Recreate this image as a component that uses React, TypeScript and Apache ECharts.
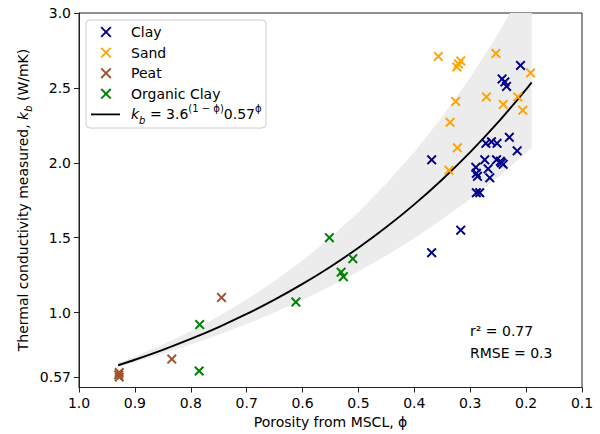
import React, { useEffect, useRef } from "react";
import * as echarts from "echarts";

// Fit curve k_b = 3.6^(1-phi) * 0.57^phi and its shaded envelope, read at these porosities
const porosityGrid = [0.93, 0.9, 0.85, 0.8, 0.75, 0.7, 0.65, 0.6, 0.55, 0.5, 0.45, 0.4, 0.35, 0.3, 0.25, 0.2, 0.19];
const fitK = [0.6485, 0.6853, 0.7515, 0.824, 0.9036, 0.9909, 1.0865, 1.1914, 1.3064, 1.4325, 1.5708, 1.7225, 1.8887, 2.0711, 2.2711, 2.4902, 2.5365];
const bandLowerK = [0.638, 0.6695, 0.7257, 0.7865, 0.8524, 0.9238, 1.0012, 1.0851, 1.176, 1.2745, 1.3813, 1.4971, 1.6225, 1.7587, 1.906, 2.0656, 2.0992];
const bandUpperK = [0.6626, 0.7068, 0.787, 0.8763, 0.9759, 1.0869, 1.2104, 1.3478, 1.5008, 1.6712, 1.861, 2.0724, 2.3077, 2.5699, 2.8616, 3.1866, 3.2559];

// Measured points [porosity, k_b]
const clayPoints = [
  [0.21, 2.65], [0.243, 2.56], [0.238, 2.54], [0.235, 2.51], [0.23, 2.17], [0.216, 2.08],
  [0.272, 2.13], [0.262, 2.14], [0.252, 2.13], [0.274, 2.02], [0.253, 2.02], [0.246, 2.01],
  [0.241, 1.99], [0.244, 2.0], [0.29, 1.97], [0.268, 1.96], [0.289, 1.93], [0.287, 1.91],
  [0.265, 1.9], [0.289, 1.8], [0.283, 1.8], [0.317, 1.55], [0.369, 2.02], [0.369, 1.4],
];
const sandPoints = [
  [0.357, 2.71], [0.317, 2.68], [0.321, 2.66], [0.324, 2.64], [0.254, 2.73], [0.326, 2.41],
  [0.271, 2.44], [0.336, 2.27], [0.323, 2.1], [0.338, 1.95], [0.192, 2.6], [0.241, 2.39],
  [0.215, 2.44], [0.206, 2.35],
];
const peatPoints = [[0.928, 0.6], [0.928, 0.57], [0.929, 0.585], [0.834, 0.69], [0.745, 1.1]];
const organicClayPoints = [
  [0.784, 0.92], [0.785, 0.61], [0.612, 1.07], [0.552, 1.5], [0.531, 1.27], [0.527, 1.24], [0.51, 1.36],
];

const yTickValues = [0.57, 1.0, 1.5, 2.0, 2.5, 3.0];
const legendNames = ["Clay", "Sand", "Peat", "Organic Clay"];
const statsLines = ["r² = 0.77", "RMSE = 0.3"];

const COLORS = ["#00008b", "#ffa500", "#a0522d", "#008000"];
const FONT = "DejaVu Sans";
const X_SYMBOL =
  "path://M0,1.4L1.4,0L5,3.6L8.6,0L10,1.4L6.4,5L10,8.6L8.6,10L5,6.4L1.4,10L0,8.6L3.6,5Z";

export default function App() {
  const ref = useRef<HTMLDivElement>(null);

  useEffect(() => {
    if (!ref.current) return;
    const chart = echarts.init(ref.current, null, { renderer: "svg" });

    const pairs = (ys: number[]) => porosityGrid.map((p, i) => [p, ys[i]]);
    const groups = [clayPoints, sandPoints, peatPoints, organicClayPoints];

    const legendTop = 32;
    const legendStep = 20.6;
    const legendGraphics: any[] = [
      {
        type: "rect",
        shape: { x: 86, y: 20, width: 180, height: 108, r: 4 },
        style: { fill: "rgba(255,255,255,0.85)", stroke: "#cccccc", lineWidth: 1 },
        z: 100,
      },
    ];
    legendNames.forEach((name, i) => {
      const cy = legendTop + i * legendStep;
      const cx = 106;
      const h = 4.8;
      legendGraphics.push(
        { type: "line", shape: { x1: cx - h, y1: cy - h, x2: cx + h, y2: cy + h }, style: { stroke: COLORS[i], lineWidth: 1.9 }, z: 101 },
        { type: "line", shape: { x1: cx - h, y1: cy + h, x2: cx + h, y2: cy - h }, style: { stroke: COLORS[i], lineWidth: 1.9 }, z: 101 },
        {
          type: "text",
          x: 131,
          y: cy,
          style: { text: name, fontFamily: FONT, fontSize: 14, fill: "#000", align: "left", verticalAlign: "middle" },
          z: 101,
        }
      );
    });
    const eqY = legendTop + 4 * legendStep;
    legendGraphics.push(
      { type: "line", shape: { x1: 91, y1: eqY, x2: 120, y2: eqY }, style: { stroke: "#000", lineWidth: 1.8 }, z: 101 },
      {
        type: "text",
        x: 131,
        y: eqY,
        style: {
          text: "{i|k}{sub|b}{n| = 3.6}{sup|(1 − ϕ)}{n|0.57}{sup|ϕ}",
          align: "left",
          verticalAlign: "middle",
          fill: "#000",
          fontFamily: FONT,
          fontSize: 14,
          rich: {
            n: { fontFamily: FONT, fontSize: 14, lineHeight: 22, verticalAlign: "middle" },
            i: { fontFamily: FONT, fontSize: 14, fontStyle: "italic", lineHeight: 22, verticalAlign: "middle" },
            sub: { fontFamily: FONT, fontSize: 10, fontStyle: "italic", lineHeight: 12, verticalAlign: "bottom" },
            sup: { fontFamily: FONT, fontSize: 10, lineHeight: 12, verticalAlign: "top" },
          },
        },
        z: 101,
      }
    );

    const option: any = {
      animation: false,
      backgroundColor: "#ffffff",
      textStyle: { fontFamily: FONT },
      grid: { left: 79, right: 18, top: 13, bottom: 46.5, show: true, borderColor: "#222", borderWidth: 1, backgroundColor: "transparent" },
      xAxis: {
        type: "value",
        inverse: true,
        min: 0.1,
        max: 1.0,
        interval: 0.1,
        name: "Porosity from MSCL, ϕ",
        nameLocation: "middle",
        nameGap: 27,
        nameTextStyle: { fontFamily: FONT, fontSize: 14, color: "#000" },
        axisLine: { show: true, lineStyle: { color: "#222", width: 1 } },
        axisTick: { show: true, length: 5, lineStyle: { color: "#222" } },
        axisLabel: { fontFamily: FONT, fontSize: 14, color: "#000", margin: 8, formatter: (v: number) => v.toFixed(1) },
        splitLine: { show: false },
      },
      yAxis: {
        type: "value",
        min: 0.5,
        max: 3.0,
        axisLine: { show: true, lineStyle: { color: "#222", width: 1 } },
        axisTick: { show: true, length: 5, lineStyle: { color: "#222" }, customValues: yTickValues },
        axisLabel: {
          fontFamily: FONT,
          fontSize: 14,
          color: "#000",
          margin: 8,
          customValues: yTickValues,
          formatter: (v: number) => (Math.abs(v - 0.57) < 1e-6 ? "0.57" : v.toFixed(1)),
        },
        splitLine: { show: false },
      },
      series: [
        {
          name: "band",
          type: "custom",
          coordinateSystem: "cartesian2d",
          clip: true,
          silent: true,
          data: [[porosityGrid[0], fitK[0]]],
          renderItem: (_params: any, api: any) => {
            const upper = porosityGrid.map((p, i) => api.coord([p, bandUpperK[i]]));
            const lower = porosityGrid.map((p, i) => api.coord([p, bandLowerK[i]])).reverse();
            return {
              type: "polygon",
              shape: { points: upper.concat(lower) },
              style: { fill: "#ececec", stroke: "none" },
            };
          },
          z: 1,
        },
        {
          name: "fit",
          type: "line",
          data: pairs(fitK),
          symbol: "none",
          smooth: 0.3,
          lineStyle: { color: "#000", width: 1.9 },
          z: 3,
        },
        ...groups.map((pts, i) => ({
          name: legendNames[i],
          type: "scatter",
          data: pts,
          symbol: X_SYMBOL,
          symbolSize: 10,
          itemStyle: { color: COLORS[i], opacity: 1 },
          z: 4,
        })),
      ],
      graphic: [
        {
          type: "text",
          x: 23,
          y: 200,
          rotation: Math.PI / 2,
          style: {
            text: "{n|Thermal conductivity measured, }{i|k}{sub|b}{n| (W/mK)}",
            align: "center",
            verticalAlign: "middle",
            fill: "#000",
            fontFamily: FONT,
            fontSize: 14,
            rich: {
              n: { fontFamily: FONT, fontSize: 14, lineHeight: 20, verticalAlign: "middle" },
              i: { fontFamily: FONT, fontSize: 14, fontStyle: "italic", lineHeight: 20, verticalAlign: "middle" },
              sub: { fontFamily: FONT, fontSize: 10, fontStyle: "italic", lineHeight: 12, verticalAlign: "bottom" },
            },
          },
        },
        ...statsLines.map((t, i) => ({
          type: "text",
          x: 470,
          y: 331 + i * 22,
          style: { text: t, fontFamily: FONT, fontSize: 14, fill: "#000", align: "left", verticalAlign: "middle" },
        })),
        ...legendGraphics,
      ],
    };

    chart.setOption(option);
    return () => chart.dispose();
  }, []);

  return <div ref={ref} style={{ position: "fixed", left: 0, top: 0, width: 600, height: 434 }} />;
}
